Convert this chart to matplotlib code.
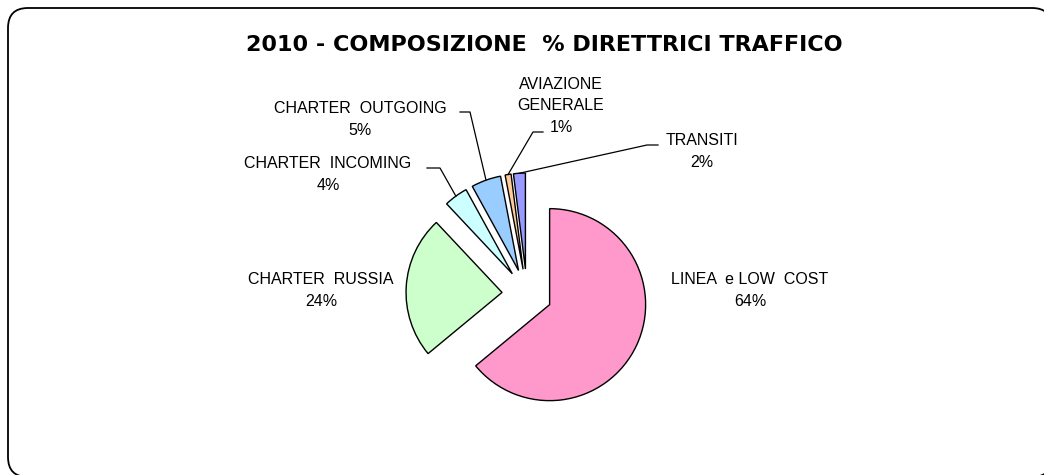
import matplotlib
matplotlib.use('Agg')
import matplotlib.pyplot as plt
from matplotlib.patches import FancyBboxPatch
import numpy as np

labels = ['LINEA  e LOW  COST', 'CHARTER  RUSSIA', 'CHARTER  INCOMING',
          'CHARTER  OUTGOING', 'AVIAZIONE\nGENERALE', 'TRANSITI']
values = [64, 24, 4, 5, 1, 2]
colors = ['#FF99CC', '#CCFFCC', '#CCFFFF', '#99CCFF', '#FFCC99', '#9999FF']

W, H = 1044, 475
fig = plt.figure(figsize=(W / 100, H / 100), dpi=100)
ax = fig.add_axes([0, 0, 1, 1])

# rounded frame around the chart
frame = FancyBboxPatch((8, -2), 1044, 469, boxstyle='round,pad=0,rounding_size=20',
                       fc='white', ec='black', lw=1.3, zorder=0)
ax.add_patch(frame)

cx, cy, r = 527, 181, 96
expl = 25  # pie explode is in data units (pixels here)
wedges, _ = ax.pie(values, colors=colors, startangle=90, counterclock=False,
                   center=(cx, cy), radius=r, explode=[expl] * len(values),
                   wedgeprops=dict(edgecolor='black', linewidth=1.0), frame=True)
ax.set_xlim(0, W)
ax.set_ylim(0, H)
ax.set_aspect('equal')
ax.axis('off')

def edge_point(w):
    ang = np.deg2rad((w.theta1 + w.theta2) / 2)
    d = r + expl
    return cx + d * np.cos(ang), cy + d * np.sin(ang)

lab_font = dict(family=['Liberation Sans', 'DejaVu Sans'], fontsize=11.5, linespacing=1.55,
                ha='center', va='center')
pcts = [f'{v}%' for v in values]

# big slices: plain labels beside the pie
ax.text(750, 184.5, labels[0] + '\n' + pcts[0], **lab_font)
ax.text(321, 184.5, labels[1] + '\n' + pcts[1], **lab_font)

# small slices: labels with leader lines
small = [
    (2, (328, 300.5), (427, 307), (440, 307)),
    (3, (360, 355.5), (460, 363), (470, 363)),
    (4, (561, 369), (543, 343), (533, 343)),
    (5, (702, 323.5), (658, 330), (647, 330)),
]
for i, txt_xy, p0, p1 in small:
    ax.text(txt_xy[0], txt_xy[1], labels[i] + '\n' + pcts[i], **lab_font)
    ex, ey = edge_point(wedges[i])
    ax.plot([p0[0], p1[0], ex], [p0[1], p1[1], ey], color='black', lw=0.9)

ax.text(544, 430, '2010 - COMPOSIZIONE  % DIRETTRICI TRAFFICO', ha='center', va='center',
        fontsize=16, fontweight='bold', family='DejaVu Sans')

fig.savefig('out.png', dpi=100)
plt.close(fig)
